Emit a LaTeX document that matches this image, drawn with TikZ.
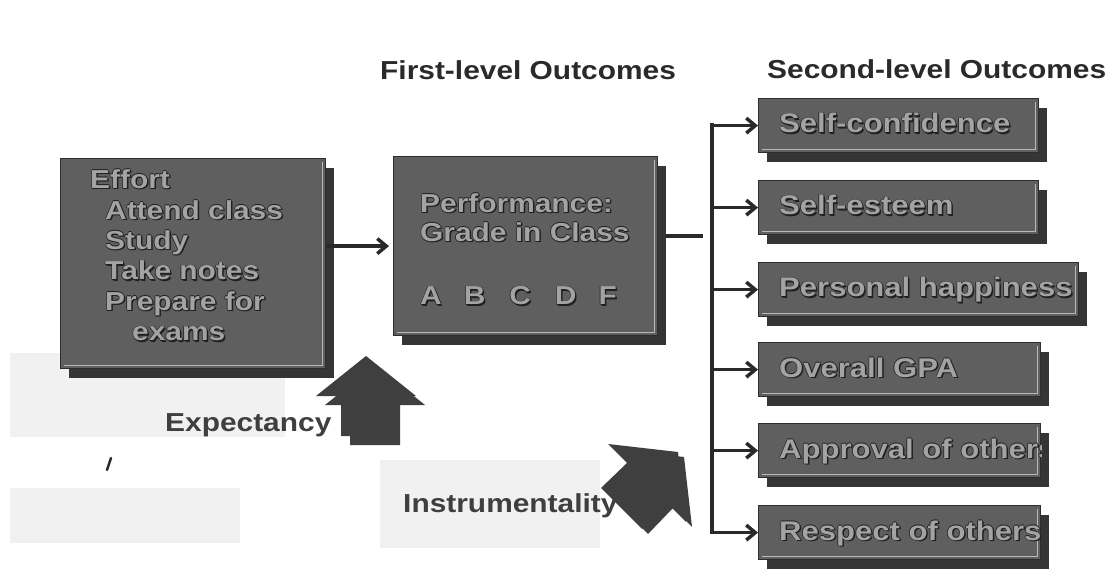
\documentclass[tikz,border=0pt]{standalone}
\usepackage{fontspec}
\newfontfamily\slidefont{Liberation Sans}[FakeStretch=1.15]
\usetikzlibrary{arrows.meta,shadows}

\definecolor{boxfill}{HTML}{5F5F5F}
\definecolor{boxedge}{HTML}{2E2E2E}
\definecolor{boxshadow}{HTML}{353535}
\definecolor{rim}{HTML}{B9B9B9}
\definecolor{txtlight}{HTML}{A3A3A3}
\definecolor{txtdark}{HTML}{202020}
\definecolor{ink}{HTML}{2A2A2A}
\definecolor{arrowfill}{HTML}{3F3F3F}
\definecolor{ghost}{HTML}{F1F1F1}

% embossed lettering: dark copies around a light face
\newcommand{\overcopy}[3]{\rlap{\hspace*{#1}\raisebox{#2}{\color{txtdark}#3}}}
\newcommand{\emb}[1]{\overcopy{1.5pt}{-1.5pt}{#1}\overcopy{-0.7pt}{0pt}{#1}\overcopy{0.7pt}{0pt}{#1}\overcopy{0pt}{0.7pt}{#1}\overcopy{0pt}{-0.7pt}{#1}{\color{txtlight}#1}}

\tikzset{
  panel/.style={draw=boxedge, line width=1.2pt, fill=boxfill, anchor=north west,
    inner sep=0pt,
    drop shadow={shadow xshift=8pt, shadow yshift=-9pt, fill=boxshadow, opacity=1},
    path picture={
      \draw[rim, line width=1pt]
        ([shift={(3pt,3pt)}]path picture bounding box.south west) --
        ([shift={(-3pt,3pt)}]path picture bounding box.south east) --
        ([shift={(-3pt,-3pt)}]path picture bounding box.north east);
    }},
  boxtext/.style={font=\slidefont\bfseries\fontsize{26}{30.5}\selectfont, inner sep=0pt, align=left},
  outtext/.style={font=\slidefont\bfseries\fontsize{27}{30}\selectfont, inner sep=0pt, anchor=base west},
  heading/.style={font=\slidefont\bfseries\fontsize{26}{30}\selectfont, text=ink, inner sep=0pt, anchor=base west},
  cuetext/.style={font=\slidefont\bfseries\fontsize{26}{30}\selectfont, text=ink!90, inner sep=0pt, anchor=base west},
  wire/.style={draw=ink, line width=3.5pt},
  feed/.style={wire, -{Straight Barb[length=9pt,width=15pt]}},
  bigarrow/.style={fill=arrowfill}
}

\begin{document}
\begin{tikzpicture}[x=1pt,y=-1pt]
\useasboundingbox (0,0) rectangle (1119,585);
\fill[white] (0,0) rectangle (1119,585);

% faint patches on the page
\fill[ghost] (10,353) rectangle (285,437);
\fill[ghost] (10,488) rectangle (240,543);
\fill[ghost] (380,460) rectangle (600,548);
\draw[ink, line width=2.5pt, line cap=round] (107,470) -- (111,458);

% headings
\node[heading] (first-head) at (380,80) {First-level Outcomes};
\node[heading] (second-head) at (767,79) {Second-level Outcomes};

% effort and performance panels (multi-line text is anchored on its last baseline)
\node[panel, minimum width=265pt, minimum height=210pt] (effort) at (60,158) {};
\node[boxtext, anchor=base west] (effort-text) at (90,341)
  {\emb{Effort}\\\hspace*{15pt}\emb{Attend class}\\\hspace*{15pt}\emb{Study}\\
   \hspace*{15pt}\emb{Take notes}\\\hspace*{15pt}\emb{Prepare for}\\\hspace*{42pt}\emb{exams}};

\node[panel, minimum width=264pt, minimum height=179pt] (perf) at (393,156) {};
\node[boxtext, anchor=base west] (perf-text) at (420,305)
  {\emb{Performance:}\\[-1.5pt]\emb{Grade in Class}\\[33pt]
   \emb{A}\hspace{22pt}\emb{B}\hspace{24pt}\emb{C}\hspace{24pt}\emb{D}\hspace{22pt}\emb{F}};

% second-level outcome panels
\node[panel, minimum width=280pt, minimum height=54pt] (conf) at (758,98) {};
\node[panel, minimum width=280pt, minimum height=54pt] (esteem) at (758,180) {};
\node[panel, minimum width=320pt, minimum height=54pt] (happy) at (758,262) {};
\node[panel, minimum width=282pt, minimum height=54pt] (gpa) at (758,342) {};
\node[panel, minimum width=282pt, minimum height=54pt] (approval) at (758,423) {};
\node[panel, minimum width=282pt, minimum height=54pt] (respect) at (758,505) {};

\node[outtext] (conf-text) at (779,133) {\emb{Self-confidence}};
\node[outtext] (esteem-text) at (779,215) {\emb{Self-esteem}};
\node[outtext] (happy-text) at (779,297) {\emb{Personal happiness}};
\node[outtext] (gpa-text) at (779,377) {\emb{Overall GPA}};
\begin{scope}
  \clip (approval.north west) rectangle (approval.south east);
  \node[outtext] (approval-text) at (779,458) {\emb{Approval of others}};
\end{scope}
\node[outtext] (respect-text) at (779,540) {\emb{Respect of others}};

% connectors
\coordinate (split) at (703,236);
\coordinate (bus-top) at (712,125);
\coordinate (bus-bot) at (712,532);
\draw[feed, shorten >=4pt] (effort.east |- perf.west) -- (perf.west);
\draw[wire] ([xshift=8pt]perf.east |- split) -- (split);
\draw[wire] ([yshift=1.75pt]bus-top) -- ([yshift=-1.75pt]bus-bot);
\foreach \b in {conf,esteem,happy,gpa,approval,respect}
  \draw[feed] (\b.west -| bus-top) -- (\b.west);

% expectancy arrow (doubled block arrow)
\fill[bigarrow] (366,356) -- (416,396) -- (391,396) -- (391,436) -- (341,436) -- (341,396) -- (316,396) -- cycle;
\fill[bigarrow] (375,365) -- (425,405) -- (400,405) -- (400,445) -- (350,445) -- (350,405) -- (325,405) -- cycle;

% instrumentality arrow (doubled, pointing up-right)
\fill[bigarrow] (684,457) -- (692,527) -- (673,508) -- (648,534) -- (607,493) -- (633,468) -- (614,449) -- cycle;
\fill[bigarrow] (678,452) -- (686,522) -- (667,503) -- (642,529) -- (601,488) -- (627,463) -- (608,444) -- cycle;

\node[cuetext] (expectancy) at (165,431) {Expectancy};
\node[cuetext] (instrumentality) at (403,512) {Instrumentality};
\end{tikzpicture}
\end{document}
